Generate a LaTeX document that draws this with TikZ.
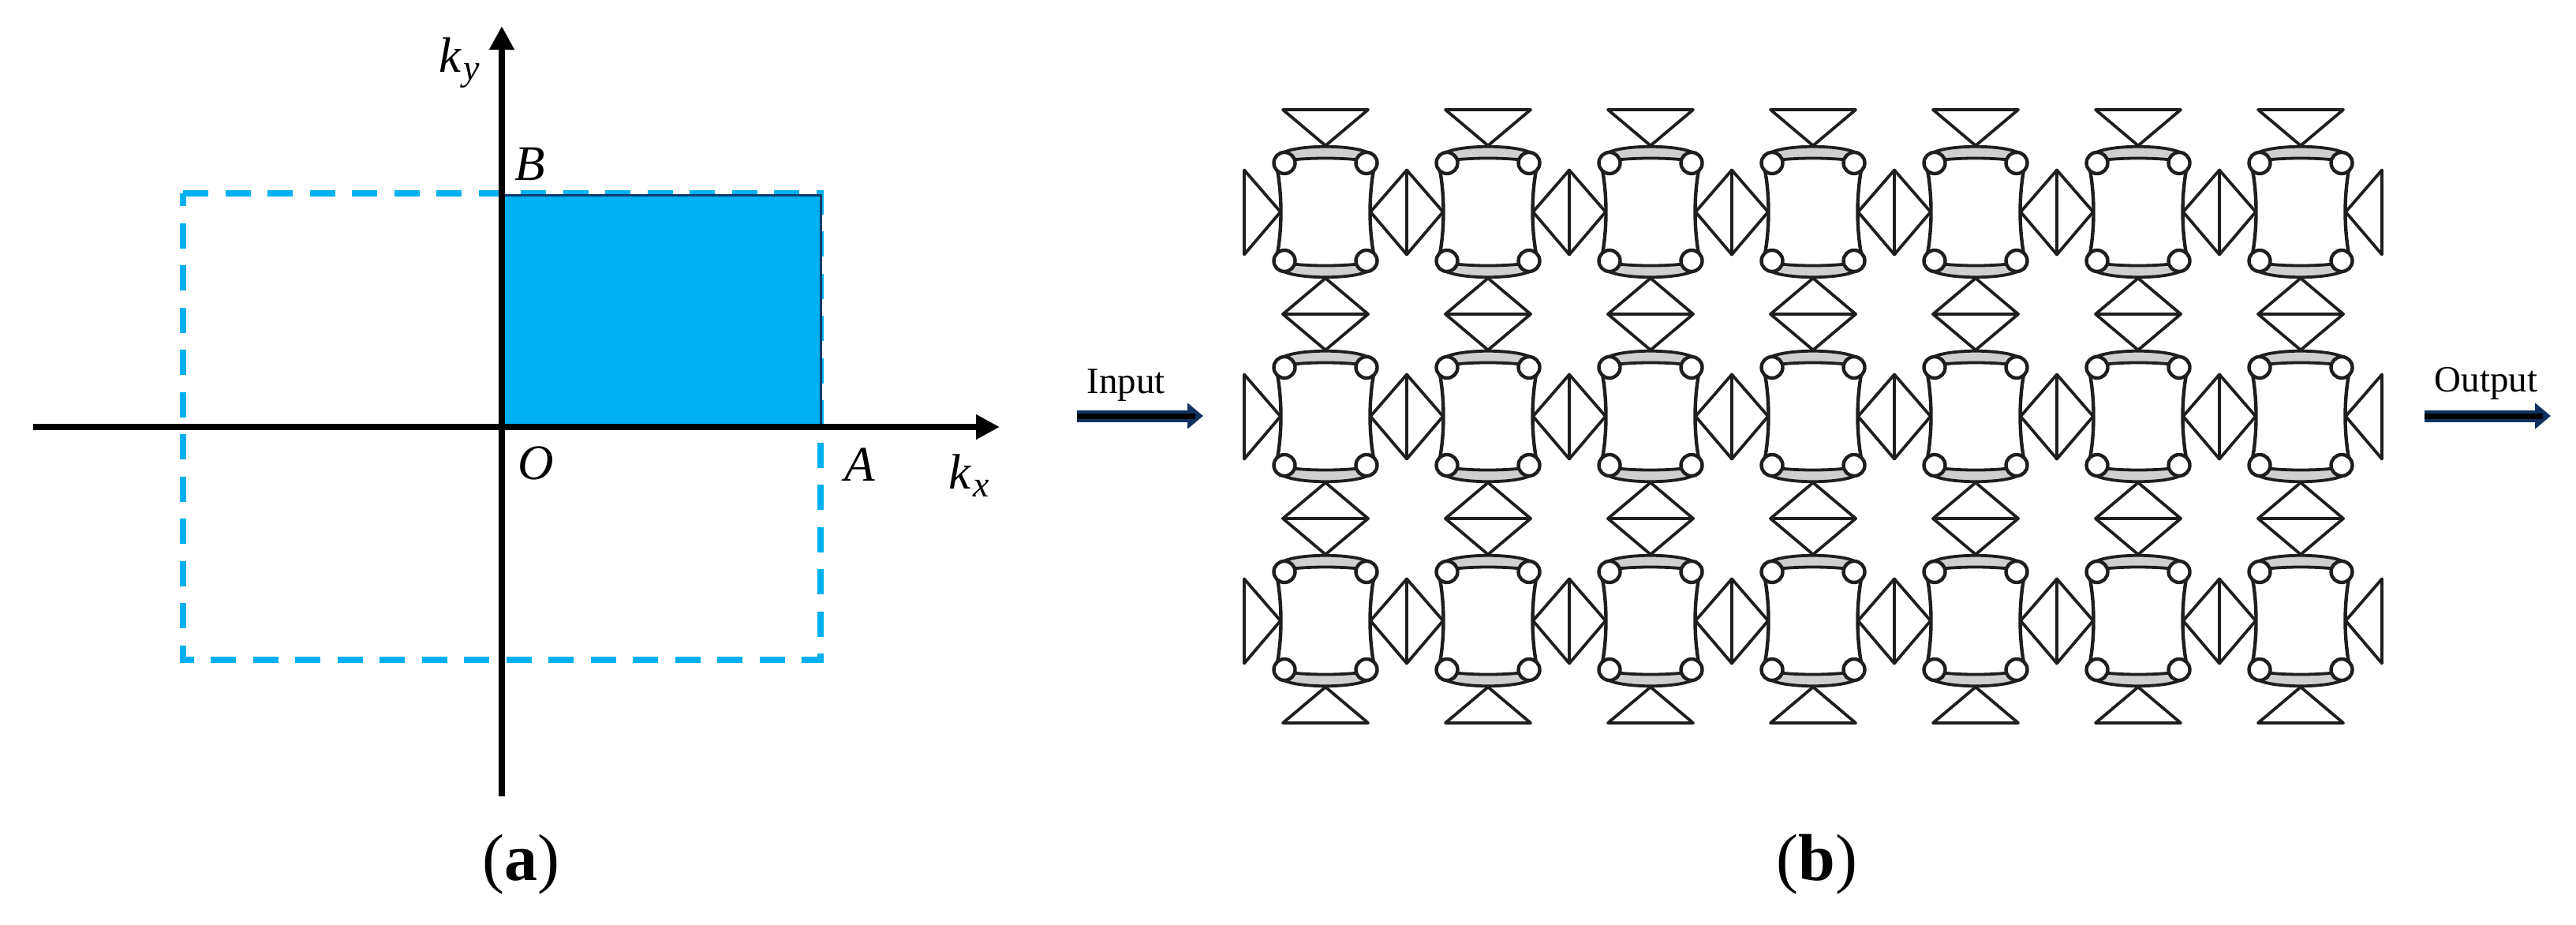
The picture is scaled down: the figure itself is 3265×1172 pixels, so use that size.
\documentclass[tikz,border=0pt]{standalone}
\usepackage{fontspec}
\setmainfont{Liberation Serif}
\usetikzlibrary{arrows.meta,positioning}
\definecolor{zoneblue}{HTML}{00B0F0}
\definecolor{zoneedge}{HTML}{0B3C6E}
\definecolor{signavy}{HTML}{10305F}
\definecolor{bandgrey}{HTML}{CFCFCF}
\definecolor{cellline}{HTML}{1E1E1E}
\newcommand{\lowsub}[1]{\kern1.5pt\raisebox{-5pt}{\fontsize{23}{26}\selectfont #1}}

\begin{document}
\begin{tikzpicture}
			[x=.5pt, y=-.5pt, inner sep=0pt,
			axis/.style		= {draw, black, line width=4pt, -{Triangle[length=15pt, width=15pt]}},
			zone/.style		= {draw=zoneedge, fill=zoneblue, line width=1.5pt},
			dashzone/.style	= {draw=zoneblue, line width=4pt, dash pattern=on 16pt off 10.75pt},
			mathlabel/.style	= {font=\fontsize{31.5}{36}\selectfont\itshape},
			caption/.style	= {font=\fontsize{42}{50}\selectfont},
			portlabel/.style	= {font=\fontsize{23.5}{28}\selectfont, anchor=base},
			porthalo/.style	= {draw=signavy, line width=7.5pt, -{Triangle[length=10pt, width=16pt]}},
			portcore/.style	= {draw=black, line width=3.5pt, shorten >=5pt},
			tri/.style		= {draw=cellline, line width=1.9pt, line join=round},
			band/.style		= {draw=cellline, fill=bandgrey, line width=1.9pt},
			side/.style		= {draw=cellline, line width=2.2pt},
			hole/.style		= {draw=cellline, fill=white, line width=2.2pt, circle, minimum size=13.5pt}]

			\useasboundingbox (0,0) rectangle (3265,1172);

			% panel a
			\draw [dashzone] (232,245) -- (1040,245) -- (1040,836) -- (232,836) -- cycle;
			\draw [zone] (636,247) rectangle (1040,541);

			\coordinate (xstart)	at (42,541);
			\coordinate (xend)		at (1267,541);
			\coordinate (ystart)	at (636,1009);
			\coordinate (yend)		at (636,33);
			\draw [axis] (xstart) -- (xend);
			\draw [axis] (ystart) -- (yend);

			\node [mathlabel] at (582,80)	(ky)	{k\lowsub{y}};
			\node [mathlabel] at (1228,603)	(kx)	{k\lowsub{x}};
			\node [mathlabel] at (672,208)	(B)		{B};
			\node [mathlabel] at (679,587)	(O)		{O};
			\node [mathlabel] at (1090,589)	(A)		{A};
			\node [caption] at (660,1095)	(capa)	{(\textbf{a})};
			\node [caption] at (2303,1095)	(capb)	{(\textbf{b})};

			% panel b
			\foreach \row in {268.5,527.5,786.5}
			\foreach \col in {0,...,6} {
				\begin{scope}[shift={(1680+206*\col,\row)}]
					\draw [tri] (-54,-129.5) -- (54,-129.5) -- (0,-84) -- cycle;
					\draw [tri] (-54,129.5) -- (54,129.5) -- (0,84) -- cycle;
					\draw [tri] (-103,-53) -- (-103,54) -- (-57,0) -- cycle;
					\draw [tri] (103,-53) -- (103,54) -- (57,0) -- cycle;
					\draw [band] (-52,-76) .. controls (-30,-85) and (30,-85) .. (52,-76)
						-- (48,-65) .. controls (25,-69) and (-25,-69) .. (-48,-65) -- cycle;
					\draw [band] (-52,76) .. controls (-30,85) and (30,85) .. (52,76)
						-- (48,65) .. controls (25,69) and (-25,69) .. (-48,65) -- cycle;
					\draw [side] (-61,-53) .. controls (-55,-20) and (-55,20) .. (-61,53);
					\draw [side] (61,-53) .. controls (55,-20) and (55,20) .. (61,53);
					\node [hole] at (-52,-62) (nw) {};
					\node [hole] at (52,-62) (ne) {};
					\node [hole] at (-52,62) (sw) {};
					\node [hole] at (52,62) (se) {};
				\end{scope}
			}

			\coordinate (instart)	at (1365,527);
			\coordinate (inend)		at (1525,527);
			\coordinate (outstart)	at (3073,527);
			\coordinate (outend)	at (3233,527);
			\draw [porthalo] (instart) -- (inend);
			\draw [portcore] (instart) -- (inend);
			\draw [porthalo] (outstart) -- (outend);
			\draw [portcore] (outstart) -- (outend);
			\node [portlabel] at (1427,498)	(input)		{Input};
			\node [portlabel] at (3151,496)	(output)	{Output};
\end{tikzpicture}
\end{document}
